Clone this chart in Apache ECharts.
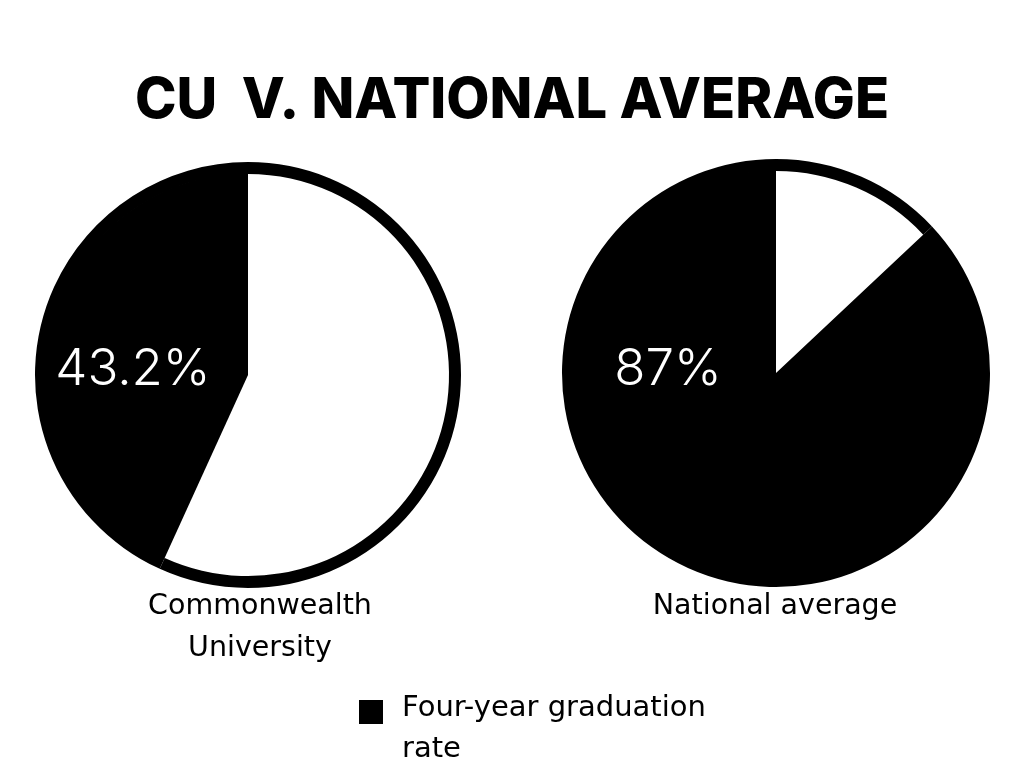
<!DOCTYPE html>
<html>
<head>
<meta charset="utf-8">
<script src="https://cdn.jsdelivr.net/npm/echarts@6/dist/echarts.min.js"></script>
<style>html,body{margin:0;padding:0;background:#fff;}#c{width:1024px;height:768px;}</style>
</head>
<body>
<div id="c"></div>
<script>
const titleText = 'CU  V. NATIONAL AVERAGE';
const groups = ['Commonwealth\nUniversity', 'National average'];
const rateName = 'Four-year graduation rate';
const otherName = 'Other';
const rates = [43.2, 87];

const TFONT = 'Inter, "Open Sans", sans-serif';
const BFONT = '"DejaVu Sans", sans-serif';
const chart = echarts.init(document.getElementById('c'));

const pieCenters = [[248, 375], [776, 373]];
const pieR = [213, 214];
const ring = 12;

function pieData(rate) {
  return [
    { name: otherName, value: +(100 - rate).toFixed(1), itemStyle: { color: '#ffffff' } },
    { name: rateName, value: rate, itemStyle: { color: '#000000' } }
  ];
}

const series = [];
rates.forEach((r, i) => {
  series.push({
    type: 'pie', center: pieCenters[i], radius: [0, pieR[i] - ring + 1],
    startAngle: 90, clockwise: true, animation: false, silent: true,
    label: { show: false }, labelLine: { show: false },
    itemStyle: { borderWidth: 0 },
    data: pieData(r)
  });
  series.push({
    type: 'pie', center: pieCenters[i], radius: [pieR[i] - ring, pieR[i]],
    startAngle: 90, clockwise: true, animation: false, silent: true,
    label: { show: false }, labelLine: { show: false },
    itemStyle: { color: '#000', borderWidth: 0 },
    data: pieData(r).map(d => ({ name: d.name, value: d.value, itemStyle: { color: '#000' } }))
  });
});

chart.setOption({
  backgroundColor: '#ffffff',
  animation: false,
  title: { text: titleText, left: 'center', top: 68,
    textStyle: { fontFamily: TFONT, fontWeight: 800, fontSize: 56, color: '#000' } },
  legend: {
    data: [rateName], left: 359, top: 688, padding: 0,
    icon: 'path://M0,0h0.01M38,82h0.01M0,12h24v24h-24z',
    itemWidth: 38, itemHeight: 82, selectedMode: false,
    itemStyle: { color: '#000', borderWidth: 0 },
    textStyle: { fontFamily: BFONT, fontSize: 29, color: '#000', width: 320, overflow: 'break', lineHeight: 41 }
  },
  graphic: [
    { type: 'text', z: 100, x: 133, y: 370, style: { text: rates[0] + '%', fontFamily: TFONT, fontWeight: 300, fontSize: 51, fill: '#fff', textAlign: 'center', textVerticalAlign: 'middle' } },
    { type: 'text', z: 100, x: 668, y: 370, style: { text: rates[1] + '%', fontFamily: TFONT, fontWeight: 300, fontSize: 51, fill: '#fff', textAlign: 'center', textVerticalAlign: 'middle' } },
    { type: 'text', z: 100, x: 260, y: 628, style: { text: groups[0], fontFamily: BFONT, fontSize: 28.5, lineHeight: 42, fill: '#000', textAlign: 'center', textVerticalAlign: 'middle' } },
    { type: 'text', z: 100, x: 775, y: 607, style: { text: groups[1], fontFamily: BFONT, fontSize: 28.5, lineHeight: 42, fill: '#000', textAlign: 'center', textVerticalAlign: 'middle' } }
  ],
  series: series
});
</script>
</body>
</html>
